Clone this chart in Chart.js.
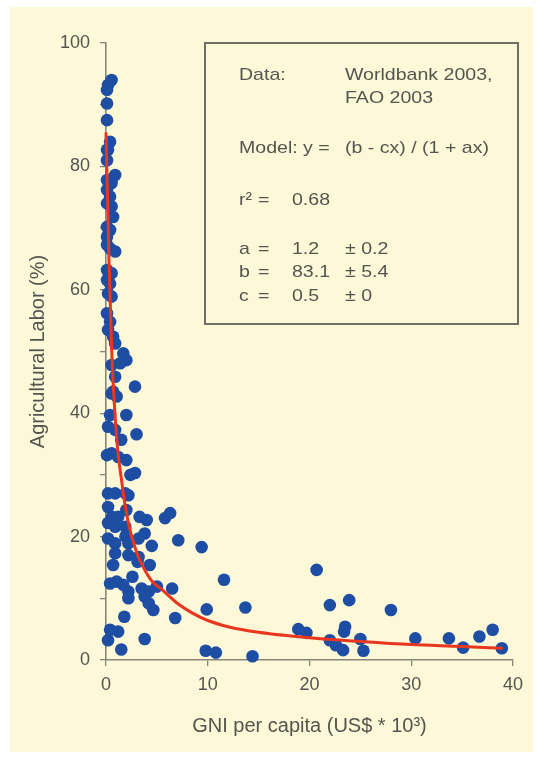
<!DOCTYPE html>
<html>
<head>
<meta charset="utf-8">
<title>Agricultural labor vs GNI</title>
<script src="https://cdn.jsdelivr.net/npm/chart.js@4.4.0/dist/chart.umd.min.js"></script>
<style>
  html, body { margin: 0; padding: 0; background: #ffffff; }
  #wrap { position: relative; width: 542px; height: 760px; }
</style>
</head>
<body>
<div id="wrap"><canvas id="myChart" width="542" height="760"></canvas></div>
<script>
// countries: GNI per capita (US$ * 10^3) and agricultural labor share (%)
const gniX = [
  0.55, 0.2, 0.1, 0.1, 0.1, 0.4, 0.1, 0.2, 0.1, 0.9, 0.55, 0.1, 0.1, 0.4, 0.1, 0.55, 0.7, 0.1, 0.4, 0.1, 0.1, 0.9, 0.4,
  0.1, 0.55, 0.1, 0.4, 0.2, 0.55, 0.1, 0.4, 0.2, 0.7, 0.9, 1.7, 2.0, 1.4, 0.55, 0.9, 2.85, 0.7, 0.55, 1.05, 0.4, 2.0, 0.2, 0.9, 3.0, 1.5,
  0.1, 0.55, 1.2, 2.0, 2.4, 2.85, 0.2, 0.9, 1.9, 2.2, 0.2, 0.6, 1.2, 2.0, 0.2, 0.9, 1.9, 3.3, 4.0, 3.8, 5.8, 6.3,
  0.2, 0.9, 1.9, 2.2, 3.2, 4.5, 7.1, 0.9, 2.2, 3.2,
  0.7, 3.1, 4.3, 0.4, 1.05, 1.7, 2.2, 2.2, 2.6, 3.5, 4.2, 3.8, 4.2, 4.65, 5.0, 6.5, 1.8, 6.8, 0.4, 1.2, 0.2, 3.8, 1.5,
  9.4, 11.6, 9.9, 13.7, 9.8, 10.8, 14.4, 20.7, 22.0, 18.9, 19.7, 22.0, 22.6, 23.3, 23.9, 28.0, 23.5, 23.4,
  25.0, 25.3, 30.4, 33.7, 35.1, 36.7, 38.0, 38.9
];
const laborY = [
  94.0, 93.2, 92.4, 90.2, 87.5, 84.0, 82.7, 82.7, 81.0, 78.6, 77.3, 77.8, 76.2, 75.1, 74.0, 73.5, 71.8, 70.2, 69.7, 68.6, 67.3, 66.2, 66.7,
  63.2, 62.7, 61.6, 61.0, 59.4, 58.9, 56.2, 54.8, 53.5, 52.4, 51.3, 49.7, 48.6, 48.1, 47.8, 45.9, 44.3, 43.5, 43.2, 42.7, 39.7, 39.7, 37.8, 37.3, 36.6, 35.7,
  33.2, 33.5, 32.9, 32.4, 30.0, 30.3, 27.0, 27.0, 27.0, 26.7, 24.8, 23.2, 23.2, 24.3, 22.2, 21.6, 21.6, 23.2, 22.7, 20.5, 23.0, 23.8,
  19.7, 18.9, 20.0, 18.9, 19.7, 18.5, 19.4, 17.3, 17.0, 16.7,
  15.4, 15.9, 15.4, 12.4, 12.7, 12.2, 11.1, 10.0, 13.5, 11.6, 11.1, 10.3, 9.2, 8.1, 11.9, 11.6, 7.0, 6.8, 4.9, 4.6, 3.2, 3.4, 1.7,
  18.3, 13.0, 8.2, 8.5, 1.5, 1.2, 0.6, 14.6, 8.9, 5.0, 4.4, 3.2, 2.4, 1.6, 9.7, 8.1, 5.4, 4.6,
  3.4, 1.5, 3.5, 3.5, 2.0, 3.8, 4.9, 1.9
];

// fitted model curve
const fitX = [0, 0.3, 0.56, 0.8, 1.15, 1.5, 1.8, 2.3, 3, 3.8, 4.5, 5.5, 7, 8.5, 10, 12, 15, 20, 25, 30, 35, 39];
const fitY = [85.5, 64.5, 50.2, 42, 34, 29.5, 25.9, 21.5, 17.5, 14.6, 12.8, 11.4, 9.2, 7.6, 6.4, 5.4, 4.5, 3.6, 3.0, 2.5, 2.2, 1.9];

const yTickLabels = [0, 20, 40, 60, 80, 100];
const xTickLabels = [0, 10, 20, 30, 40];

// text in the box: label column, operator column, value column, error column
const noteCol1 = ['Data:', '', 'Model: y =', 'r\u00B2', 'a', 'b', 'c'];
const noteCol2 = ['', '', '', '=', '=', '=', '='];
const noteCol3 = ['', '', '', '0.68', '1.2', '83.1', '0.5'];
const noteCol4 = ['Worldbank 2003,', 'FAO 2003', '(b - cx) / (1 + ax)', '', '\u00B1 0.2', '\u00B1 5.4', '\u00B1 0'];

const FONT = "'Liberation Sans', Arial, Helvetica, sans-serif";
const TEXT = '#55554f';
const AXIS = '#86867a';

const points = gniX.map((x, i) => ({ x: x, y: laborY[i] }));
const fitPoints = fitX.map((x, i) => ({ x: x, y: fitY[i] }));

const panelPlugin = {
  id: 'panel',
  beforeDraw(chart) {
    const ctx = chart.ctx;
    ctx.save();
    ctx.fillStyle = '#ffffff';
    ctx.fillRect(0, 0, chart.width, chart.height);
    ctx.fillStyle = '#fdf8d7';
    ctx.fillRect(10, 7, 523, 745);
    ctx.restore();
  }
};

const notePlugin = {
  id: 'note',
  afterDraw(chart) {
    const ctx = chart.ctx;
    ctx.save();
    ctx.strokeStyle = '#6f6f64';
    ctx.lineWidth = 2;
    ctx.strokeRect(205, 43, 313, 281);
    const rowY = [75, 98, 148, 200, 249, 272.5, 296];
    const colX = [239, 258, 292, 345];
    ctx.fillStyle = TEXT;
    ctx.font = '17px ' + FONT;
    ctx.textBaseline = 'middle';
    const cols = [noteCol1, noteCol2, noteCol3, noteCol4];
    for (let r = 0; r < rowY.length; r++) {
      for (let c = 0; c < cols.length; c++) {
        const t = cols[c][r];
        if (!t) continue;
        ctx.save();
        ctx.translate(colX[c], rowY[r]);
        ctx.scale(1.15, 1);
        ctx.fillText(t, 0, 0);
        ctx.restore();
      }
    }
    ctx.restore();
  }
};

const ctx = document.getElementById('myChart');
const myChart = new Chart(ctx, {
  type: 'scatter',
  data: {
    datasets: [
      {
        type: 'line',
        data: fitPoints,
        borderColor: '#e8361f',
        borderWidth: 3,
        pointRadius: 0,
        fill: false,
        cubicInterpolationMode: 'monotone',
        order: 0,
        clip: false
      },
      {
        data: points,
        backgroundColor: '#1e4ea4',
        borderWidth: 0,
        pointRadius: 6.3,
        order: 1,
        clip: false
      }
    ]
  },
  options: {
    responsive: false,
    animation: false,
    devicePixelRatio: 1,
    layout: { padding: { top: 43, right: 29, left: 0, bottom: 0 } },
    plugins: {
      legend: { display: false },
      tooltip: { enabled: false }
    },
    scales: {
      x: {
        type: 'linear',
        min: 0,
        max: 40,
        afterFit(scale) { scale.height = 100; },
        grid: { drawOnChartArea: false, drawTicks: true, tickLength: 6, color: AXIS, lineWidth: 1.3 },
        border: { display: true, color: AXIS, width: 1.6 },
        ticks: {
          stepSize: 10,
          padding: 8,
          color: TEXT,
          font: { family: FONT, size: 18 },
          callback: v => xTickLabels.includes(v) ? String(v) : ''
        },
        title: {
          display: true,
          text: 'GNI per capita (US$ * 10\u00B3)',
          color: TEXT,
          font: { family: FONT, size: 20 },
          padding: { top: 0, bottom: 22 }
        }
      },
      y: {
        type: 'linear',
        min: 0,
        max: 100,
        afterFit(scale) { scale.width = 106; },
        grid: { drawOnChartArea: false, drawTicks: true, tickLength: 6, color: AXIS, lineWidth: 1.3 },
        border: { display: true, color: AXIS, width: 1.6 },
        ticks: {
          stepSize: 10,
          padding: 10,
          color: TEXT,
          font: { family: FONT, size: 18 },
          callback: v => yTickLabels.includes(v) ? String(v) : ''
        },
        title: {
          display: true,
          text: 'Agricultural Labor (%)',
          color: TEXT,
          font: { family: FONT, size: 20 },
          padding: { top: 26, bottom: 0 }
        }
      }
    }
  },
  plugins: [panelPlugin, notePlugin]
});
</script>
</body>
</html>
